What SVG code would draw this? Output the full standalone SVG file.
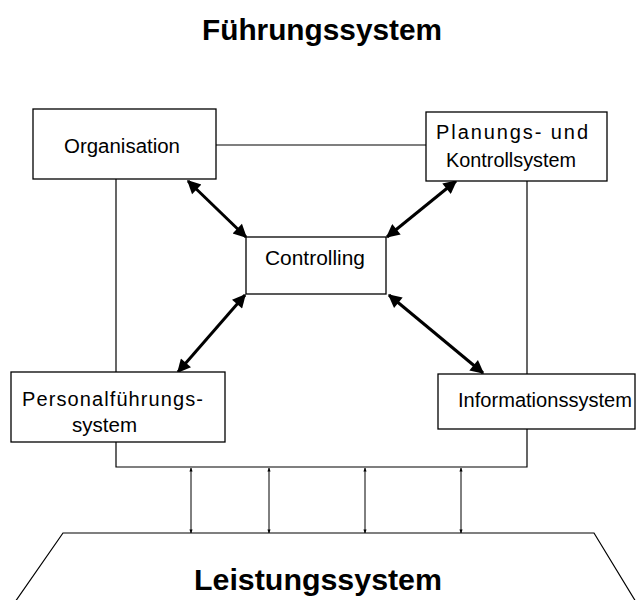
<svg xmlns="http://www.w3.org/2000/svg" width="636" height="600" viewBox="0 0 636 600">
<style>
.box{fill:#fff;stroke:#000;stroke-width:1.3}
.t{font-family:"Liberation Sans",Arial,sans-serif;font-size:20px;fill:#000}
.h{font-family:"Liberation Sans",Arial,sans-serif;font-size:29px;font-weight:bold;fill:#000}
.ln{fill:none;stroke:#000;stroke-width:1.2}
.thick{fill:none;stroke:#000;stroke-width:3;marker-start:url(#big);marker-end:url(#big)}
.thin{fill:none;stroke:#000;stroke-width:1;marker-start:url(#sm);marker-end:url(#sm)}
</style>
<defs>
<marker id="big" viewBox="0 0 10 10" refX="9" refY="5" markerWidth="5" markerHeight="4.5" orient="auto-start-reverse" markerUnits="strokeWidth"><path d="M0,0 L10,5 L0,10 Z" fill="#000"/></marker>
<marker id="sm" viewBox="0 0 10 10" refX="9" refY="5" markerWidth="4" markerHeight="4" orient="auto-start-reverse" markerUnits="strokeWidth"><path d="M0,1 L10,5 L0,9 Z" fill="#000"/></marker>
</defs>
<text id="title" class="h" x="322" y="40" text-anchor="middle" textLength="240" lengthAdjust="spacingAndGlyphs">Führungssystem</text>
<g id="connectors">
<path class="ln" d="M216,145 H426"/>
<path class="ln" d="M116,179 V372"/>
<path class="ln" d="M527,181 V374"/>
<path class="ln" d="M116,442 V467 H527 V429"/>
<path class="thick" d="M188,181 L246,237"/>
<path class="thick" d="M456,181 L387,237"/>
<path class="thick" d="M245,295 L178,372"/>
<path class="thick" d="M389,295 L483,373"/>
<path class="thin" d="M191,468 V533"/>
<path class="thin" d="M269,468 V533"/>
<path class="thin" d="M365,468 V533"/>
<path class="thin" d="M461,468 V533"/>
</g>
<g id="organisation"><rect class="box" x="33" y="109" width="183" height="70"/><text class="t" x="122" y="153" text-anchor="middle" textLength="116" lengthAdjust="spacingAndGlyphs">Organisation</text></g>
<g id="planung"><rect class="box" x="426" y="112" width="181" height="69"/><text class="t" x="436" y="139" textLength="152" lengthAdjust="spacing">Planungs- und</text><text class="t" x="446" y="167" textLength="130" lengthAdjust="spacingAndGlyphs">Kontrollsystem</text></g>
<g id="controlling"><rect class="box" x="246" y="237" width="140" height="57"/><text class="t" x="265" y="265" textLength="100" lengthAdjust="spacingAndGlyphs">Controlling</text></g>
<g id="personal"><rect class="box" x="11" y="372" width="214" height="70"/><text class="t" x="22" y="406" textLength="181" lengthAdjust="spacing">Personalführungs-</text><text class="t" x="72" y="432" textLength="65" lengthAdjust="spacingAndGlyphs">system</text></g>
<g id="information"><rect class="box" x="438" y="374" width="197" height="55"/><text class="t" x="458" y="407" textLength="174" lengthAdjust="spacingAndGlyphs">Informationssystem</text></g>
<g id="leistung"><path class="ln" d="M15,602 L63,533 H594 L636,602"/><text class="h" x="318" y="590" text-anchor="middle" textLength="248" lengthAdjust="spacingAndGlyphs">Leistungssystem</text></g>
</svg>
